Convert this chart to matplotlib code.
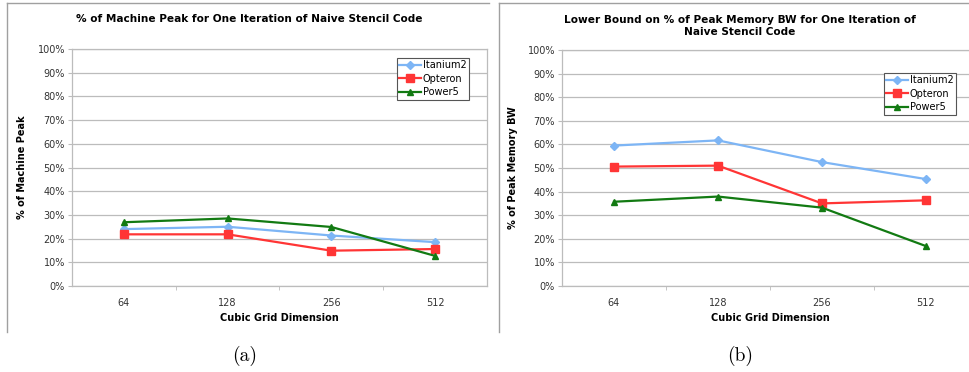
import matplotlib

matplotlib.use("Agg")
import matplotlib.pyplot as plt  # noqa: E402
from matplotlib.lines import Line2D  # noqa: E402

W, H = 970, 372

grid_dims = ["64", "128", "256", "512"]
series_names = ["Itanium2", "Opteron", "Power5"]

# (a) % of machine peak
peak_itanium2 = [24.0, 25.0, 21.3, 18.5]
peak_opteron = [21.8, 21.8, 14.9, 15.6]
peak_power5 = [26.9, 28.5, 24.9, 12.7]

# (b) lower bound on % of peak memory bandwidth
bw_itanium2 = [59.5, 61.7, 52.5, 45.3]
bw_opteron = [50.6, 51.0, 35.0, 36.3]
bw_power5 = [35.7, 37.9, 33.2, 16.9]

COLORS = ["#7db5f5", "#ff3535", "#127a12"]
MARKERS = ["D", "s", "^"]
MSIZES = [3.8, 5.5, 5.0]
GRID = "#bcbcbc"
FONT = "DejaVu Sans"


def px(x, y):
    """pixel (from top-left) -> figure fraction"""
    return x / W, 1 - y / H


def panel(fig, left, top, right, bottom, ylabel, ylabel_x, data, legend_xy):
    x0, y0 = px(left, bottom)
    ax = fig.add_axes([x0, y0, (right - left) / W, (bottom - top) / H])
    xs = list(range(len(grid_dims)))
    for vals, name, c, m, ms in zip(data, series_names, COLORS, MARKERS, MSIZES):
        ax.plot(xs, vals, color=c, lw=1.6, marker=m, ms=ms, label=name,
                markeredgecolor=c)
    ax.set_xlim(-0.5, 3.5)
    ax.set_ylim(0, 100)
    ax.set_yticks(range(0, 101, 10))
    ax.set_yticklabels([f"{v}%" for v in range(0, 101, 10)])
    ax.set_xticks(xs)
    ax.set_xticklabels(grid_dims)
    ax.set_xticks([0.5, 1.5, 2.5], minor=True)
    ax.yaxis.grid(True, color=GRID, lw=0.9)
    ax.set_axisbelow(True)
    ax.tick_params(axis="y", length=3, color=GRID, labelsize=7,
                   labelcolor="#333333", pad=2)
    ax.tick_params(axis="x", which="major", length=0, labelsize=7,
                   labelcolor="#333333", pad=9)
    ax.tick_params(axis="x", which="minor", length=3, color=GRID)
    for s in ax.spines.values():
        s.set_color(GRID)
        s.set_linewidth(0.9)
    ax.set_xlabel("Cubic Grid Dimension", fontsize=7, fontweight="bold")
    ax.xaxis.set_label_coords(0.5, -(318 - bottom) / (bottom - top))
    ax.xaxis.label.set_va("center")
    ax.set_ylabel(ylabel, fontsize=7, fontweight="bold")
    ax.yaxis.set_label_coords((ylabel_x - left) / (right - left), 0.5)
    ax.yaxis.label.set_va("center")
    leg = ax.legend(loc="upper left", bbox_to_anchor=px(*legend_xy),
                    bbox_transform=fig.transFigure, fontsize=7,
                    fancybox=False, framealpha=1, edgecolor="#555555",
                    handlelength=2.2, handletextpad=0.2, borderpad=0.25,
                    labelspacing=0.35, borderaxespad=0)
    leg.get_frame().set_linewidth(0.8)
    return ax


fig = plt.figure(figsize=(W / 100, H / 100), dpi=100)
plt.rcParams["font.family"] = FONT

# panel frames (the source screenshots are cropped on the right/bottom)
for (xa, ya, xb, yb) in [(7, 3, 7, 332), (7, 3, 489, 3),
                         (499, 3, 499, 332), (499, 3, 970, 3)]:
    fig.add_artist(Line2D([xa / W, xb / W], [1 - ya / H, 1 - yb / H],
                          color="#a0a0a0", lw=1.0))

panel(fig, 72, 49, 487, 286, "% of Machine Peak", 22,
      [peak_itanium2, peak_opteron, peak_power5], (397, 58))
panel(fig, 562, 50, 978, 286, "% of Peak Memory BW", 513,
      [bw_itanium2, bw_opteron, bw_power5], (884, 73))

fig.text(*px(249, 19), "% of Machine Peak for One Iteration of Naive Stencil Code",
         ha="center", va="center", fontsize=7.6, fontweight="bold")
fig.text(*px(740, 26), "Lower Bound on % of Peak Memory BW for One Iteration of\n"
         "Naive Stencil Code", ha="center", va="center", fontsize=7.6,
         fontweight="bold", linespacing=1.3)

fig.text(*px(245, 356), "(a)", ha="center", va="center", fontsize=14,
         family="cmr10")
fig.text(*px(740, 356), "(b)", ha="center", va="center", fontsize=14,
         family="cmr10")

fig.savefig("out.png", dpi=100)
plt.close(fig)
